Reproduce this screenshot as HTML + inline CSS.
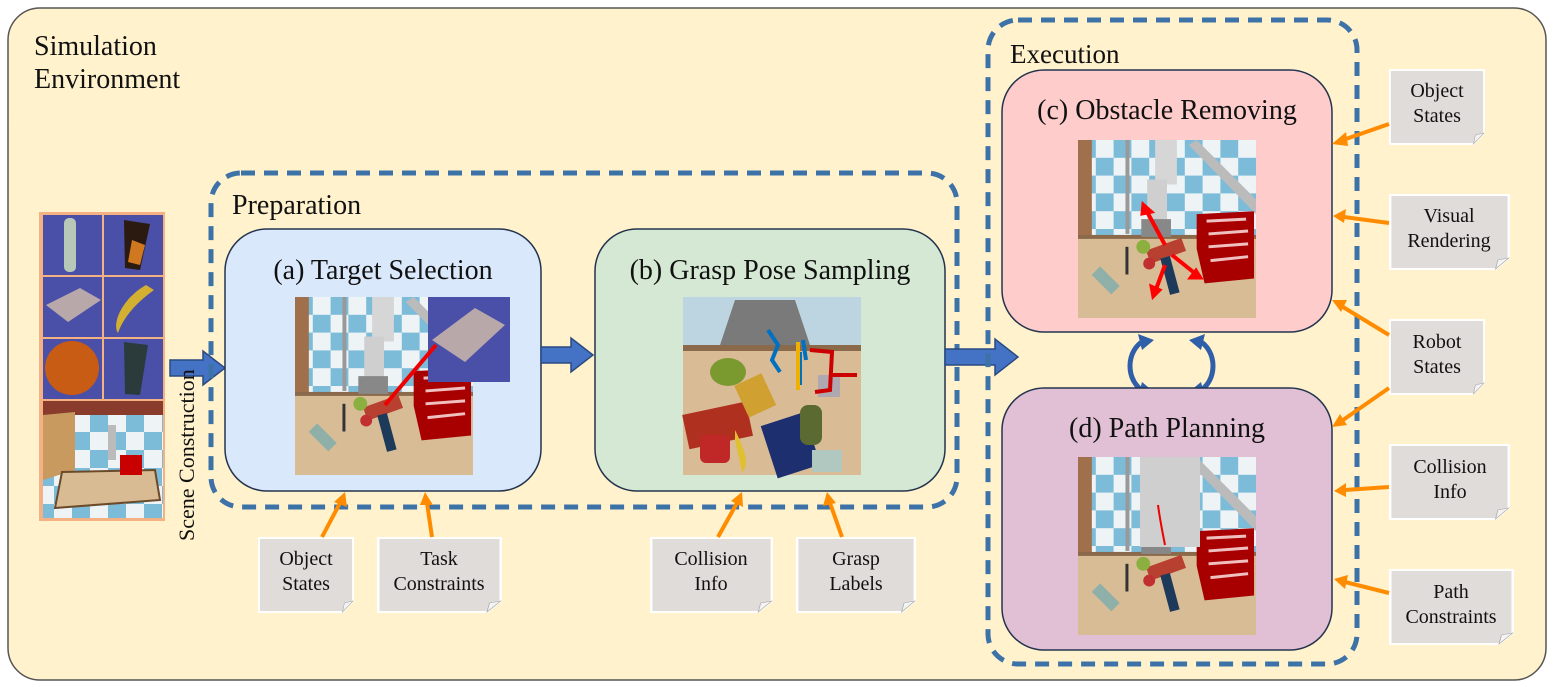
<!DOCTYPE html>
<html><head><meta charset="utf-8"><style>
html,body{margin:0;padding:0;background:#fff;}
svg{display:block;}
text{font-family:"Liberation Serif",serif;fill:#111;}
</style></head><body>
<svg width="1553" height="687" viewBox="0 0 1553 687" xmlns="http://www.w3.org/2000/svg">
<defs>
<pattern id="chk" width="36" height="36" patternUnits="userSpaceOnUse">
<rect width="36" height="36" fill="#eef3f6"/>
<rect width="18" height="18" fill="#7dbcd9"/>
<rect x="18" y="18" width="18" height="18" fill="#7dbcd9"/>
</pattern>
<symbol id="scene" viewBox="0 0 180 180">
<rect width="180" height="180" fill="#d8bc96"/>
<rect width="180" height="98" fill="url(#chk)"/>
<rect x="0" y="0" width="14" height="98" fill="#a0704c"/>
<rect x="0" y="96" width="180" height="4" fill="#8a6a4a"/>
<path d="M120 0 L180 60 L180 75 L112 5Z" fill="#bbb"/>
<rect x="48" y="0" width="4" height="95" fill="#999"/>
<rect x="78" y="0" width="22" height="45" fill="#d6d6d6"/>
<rect x="70" y="40" width="20" height="45" fill="#cfcfcf"/>
<rect x="64" y="80" width="30" height="18" fill="#888"/>
<path d="M120 75 L178 72 L178 140 L128 145 L120 110Z" fill="#a80000"/>
<path d="M130 82 L170 80 M132 95 L172 92 M132 108 L172 105 M134 122 L172 118" stroke="#f0c0c0" stroke-width="3"/>
<rect x="70" y="105" width="38" height="14" fill="#b84030" transform="rotate(-20 89 112)"/>
<rect x="88" y="118" width="10" height="38" fill="#1e3a5a" transform="rotate(-15 93 137)"/>
<circle cx="66" cy="108" r="7" fill="#8cb040"/>
<circle cx="72" cy="125" r="6" fill="#c03030"/>
<rect x="22" y="128" width="12" height="28" fill="#8fb0a8" transform="rotate(-45 28 142)"/>
<rect x="48" y="108" width="3" height="28" fill="#333"/>
</symbol>
<symbol id="note" viewBox="0 0 100 76" preserveAspectRatio="none">
<path d="M1 1 H99 V64 L88 75 H1Z" fill="#e0dcd9" stroke="#fff" stroke-width="2"/>
<path d="M88 75 L90 66 L99 64Z" fill="#f4f4f4" stroke="#aaa" stroke-width="0.6"/>
</symbol>
</defs>

<rect x="8" y="8" width="1538" height="672" rx="32" fill="#fff2cc" stroke="#555" stroke-width="1.5"/>
<text x="34" y="55" font-size="28">Simulation</text>
<text x="34" y="88" font-size="28">Environment</text>

<!-- left panel -->
<rect x="39" y="212" width="126" height="309" fill="#f4b183"/>
<g fill="#4a4fa8">
<rect x="43" y="215" width="59" height="60"/><rect x="104" y="215" width="59" height="60"/>
<rect x="43" y="277" width="59" height="60"/><rect x="104" y="277" width="59" height="60"/>
<rect x="43" y="339" width="59" height="60"/><rect x="104" y="339" width="59" height="60"/>
</g>
<rect x="64" y="218" width="12" height="54" rx="5" fill="#b8c8b8"/>
<path d="M124 220 L150 224 L140 270 L125 268Z" fill="#2a1a10"/>
<path d="M132 240 L145 245 L140 265 L128 262Z" fill="#d07820"/>
<path d="M46 305 L80 288 L101 300 L68 322Z" fill="#b8a8aa"/>
<path d="M146 285 C120 300 112 325 118 333 C124 315 140 300 154 290Z" fill="#d4b030"/>
<circle cx="72" cy="368" r="27" fill="#c85c14"/>
<path d="M124 342 L148 345 L140 395 L125 394Z" fill="#2b3b3b"/>
<rect x="43" y="401" width="120" height="117" fill="url(#chk)"/>
<rect x="43" y="401" width="120" height="14" fill="#8a3c2c"/>
<path d="M43 415 L75 412 L75 470 L43 480Z" fill="#c89a60"/>
<path d="M62 472 L155 470 L160 500 L55 508Z" fill="#d8bb92" stroke="#6a4a2a" stroke-width="2"/>
<rect x="120" y="455" width="22" height="20" fill="#c80000"/>
<rect x="108" y="425" width="8" height="35" fill="#bbb"/>

<!-- scene arrow -->
<path d="M170 360 H203 V351 L225 368 L203 385 V376 H170Z" fill="#4472c4" stroke="#2a4a80" stroke-width="1.5"/>
<text font-size="22" transform="translate(194,541) rotate(-90)">Scene Construction</text>

<!-- Preparation -->
<rect x="211" y="173" width="746" height="334" rx="30" fill="none" stroke="#3d72a8" stroke-width="5" stroke-dasharray="14,9"/>
<text x="232" y="214" font-size="28">Preparation</text>

<rect x="225" y="229" width="316" height="262" rx="42" fill="#dae8fc" stroke="#24344f" stroke-width="1.5"/>
<text x="383" y="279" font-size="28" text-anchor="middle">(a) Target Selection</text>
<use href="#scene" x="293" y="297" width="182" height="178"/>
<rect x="428" y="297" width="82" height="85" fill="#4a4fa8"/>
<path d="M432 340 L475 308 L505 325 L465 362Z" fill="#b8a8aa"/>
<path d="M385 405 L436 345" stroke="#e00" stroke-width="4"/>

<path d="M541 347 H571 V338 L593 355 L571 372 V363 H541Z" fill="#4472c4" stroke="#2a4a80" stroke-width="1.5"/>

<rect x="595" y="229" width="350" height="262" rx="42" fill="#d5e8d4" stroke="#24344f" stroke-width="1.5"/>
<text x="770" y="279" font-size="28" text-anchor="middle">(b) Grasp Pose Sampling</text>
<rect x="683" y="297" width="178" height="178" fill="#d9bc96"/>
<rect x="683" y="297" width="178" height="50" fill="#7dbcd9"/>
<rect x="683" y="297" width="178" height="50" fill="#e6e6e6" opacity="0.6"/>
<path d="M720 345 L735 300 L795 300 L810 345Z" fill="#7a7a7a"/>
<rect x="683" y="345" width="178" height="6" fill="#8a6a4a"/>
<ellipse cx="728" cy="372" rx="18" ry="14" fill="#7a9a30"/>
<rect x="685" y="408" width="65" height="35" fill="#b03020" transform="rotate(-12 717 425)"/>
<rect x="740" y="378" width="30" height="35" fill="#d0a030" transform="rotate(-25 755 395)"/>
<rect x="700" y="435" width="30" height="28" rx="6" fill="#c02828"/>
<path d="M735 430 C745 450 750 465 742 472 L735 440Z" fill="#e0c030"/>
<rect x="768" y="418" width="45" height="55" fill="#1e2f70" transform="rotate(-18 790 445)"/>
<rect x="800" y="405" width="22" height="40" fill="#5a6a30" rx="8"/>
<rect x="812" y="450" width="30" height="22" fill="#b0c8c0"/>
<rect x="818" y="375" width="22" height="22" fill="#b0a8b0"/>
<path d="M768 330 L778 345 L772 360 L780 372 M800 352 L800 385 M803 340 L806 360" stroke-width="4" fill="none" stroke="#0070c0"/>
<path d="M798 342 L798 390" stroke="#f0b000" stroke-width="4"/>
<path d="M810 350 L832 352 L830 390 L815 392 M830 375 L857 375" stroke="#cc0000" stroke-width="4" fill="none"/>

<path d="M945 349 H995 V339 L1018 357 L995 375 V365 H945Z" fill="#4472c4" stroke="#2a4a80" stroke-width="1.5"/>

<!-- Execution -->
<rect x="988" y="20" width="369" height="644" rx="30" fill="none" stroke="#3d72a8" stroke-width="5" stroke-dasharray="14,9"/>
<text x="1010" y="63" font-size="27">Execution</text>

<rect x="1002" y="70" width="330" height="262" rx="42" fill="#ffcccc" stroke="#24344f" stroke-width="1.5"/>
<text x="1167" y="119" font-size="28" text-anchor="middle">(c) Obstacle Removing</text>
<use href="#scene" x="1078" y="139" width="178" height="180"/>
<path d="M1165 245 L1145 208 M1172 255 L1197 275 M1165 265 L1155 292" stroke="#f00" stroke-width="4"/>
<path d="M1143 204 L1152 212 L1142 214Z M1201 278 L1190 278 L1196 270Z M1153 297 L1151 286 L1160 290Z" fill="#f00" stroke="#f00" stroke-width="3"/>

<path d="M1145 340 C1125 350 1125 382 1145 392 M1198 340 C1218 350 1218 382 1198 392" stroke="#2f5fa8" stroke-width="5" fill="none"/>
<path d="M1138 334 L1154 340 L1142 350Z M1205 398 L1189 392 L1201 382Z M1205 334 L1189 340 L1201 350Z M1138 398 L1154 392 L1142 382Z" fill="#2f5fa8"/>

<rect x="1002" y="388" width="330" height="262" rx="42" fill="#e1bfd4" stroke="#24344f" stroke-width="1.5"/>
<text x="1167" y="437" font-size="28" text-anchor="middle">(d) Path Planning</text>
<use href="#scene" x="1078" y="457" width="178" height="178"/>
<rect x="1140" y="457" width="60" height="90" fill="#cfcfcf"/>
<path d="M1158 505 C1160 520 1162 530 1165 545" stroke="#e00" stroke-width="2" fill="none"/>

<!-- notes -->
<g font-size="20" text-anchor="middle">
<use href="#note" x="1389" y="69" width="96" height="76"/>
<text x="1437" y="97">Object</text><text x="1437" y="122">States</text>
<use href="#note" x="1389" y="194" width="121" height="76"/>
<text x="1449" y="222">Visual</text><text x="1449" y="247">Rendering</text>
<use href="#note" x="1389" y="319" width="96" height="76"/>
<text x="1437" y="348">Robot</text><text x="1437" y="373">States</text>
<use href="#note" x="1389" y="444" width="121" height="76"/>
<text x="1450" y="473">Collision</text><text x="1450" y="498">Info</text>
<use href="#note" x="1389" y="569" width="125" height="76"/>
<text x="1451" y="598">Path</text><text x="1451" y="623">Constraints</text>

<use href="#note" x="258" y="537" width="96" height="76"/>
<text x="306" y="565">Object</text><text x="306" y="590">States</text>
<use href="#note" x="377" y="537" width="125" height="76"/>
<text x="439" y="565">Task</text><text x="439" y="590">Constraints</text>
<use href="#note" x="650" y="537" width="123" height="76"/>
<text x="711" y="565">Collision</text><text x="711" y="590">Info</text>
<use href="#note" x="796" y="537" width="120" height="76"/>
<text x="856" y="565">Grasp</text><text x="856" y="590">Labels</text>
</g>

<!-- orange arrows -->
<g stroke="#ff8c00" stroke-width="4" fill="#ff8c00">
<line x1="1389" y1="124" x2="1343" y2="140"/>
<line x1="1389" y1="223" x2="1344" y2="217"/>
<line x1="1389" y1="335" x2="1343" y2="307"/>
<line x1="1389" y1="388" x2="1343" y2="420"/>
<line x1="1389" y1="487" x2="1345" y2="490"/>
<line x1="1389" y1="593" x2="1345" y2="582"/>
<line x1="322" y1="537" x2="340" y2="503"/>
<line x1="432" y1="537" x2="427" y2="503"/>
<line x1="718" y1="537" x2="737" y2="503"/>
<line x1="842" y1="537" x2="830" y2="503"/>
</g>
<g fill="#ff8c00">
<path d="M1332 144 L1346 132 L1348 146Z"/>
<path d="M1333 216 L1346 209 L1344 223Z"/>
<path d="M1332 300 L1347 300 L1341 312Z"/>
<path d="M1332 427 L1340 414 L1347 425Z"/>
<path d="M1334 491 L1346 483 L1346 497Z"/>
<path d="M1334 579 L1348 575 L1345 589Z"/>
<path d="M345 492 L347 507 L334 502Z"/>
<path d="M425 492 L433 505 L420 505Z"/>
<path d="M742 492 L743 507 L731 501Z"/>
<path d="M827 492 L836 503 L823 506Z"/>
</g>
</svg>
</body></html>
